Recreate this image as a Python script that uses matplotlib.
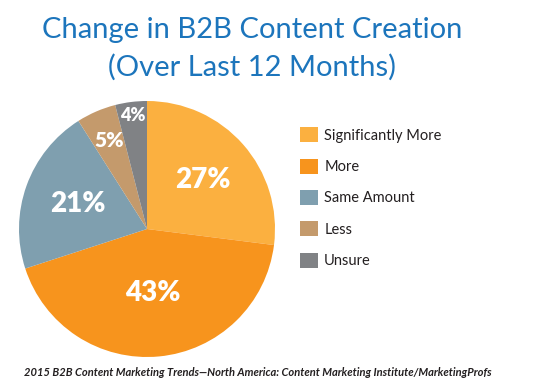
import numpy as np
import matplotlib.pyplot as plt

labels = ['Significantly More', 'More', 'Same Amount', 'Less', 'Unsure']
values = [27, 43, 21, 5, 4]
colors = ['#FBB040', '#F7941D', '#7F9FAF', '#C49A6C', '#808285']
label_dist = [0.58, 0.5, 0.57, 0.75, 0.89]

plt.rcParams['font.family'] = ['Lato', 'DejaVu Sans']

fig = plt.figure(figsize=(5.46, 3.90), dpi=100)
fig.patch.set_facecolor('white')

# pie axes, square in pixels
ax = fig.add_axes([19/546, 33/390, 256/546, 256/390])
wedges, _ = ax.pie(values, colors=colors, startangle=90, counterclock=False,
                   radius=1.0, wedgeprops=dict(linewidth=0))
ax.set_xlim(-1, 1)
ax.set_ylim(-1, 1)
ax.set_aspect('equal')

# percent labels
total = sum(values)
start = 90.0
for v, d in zip(values, label_dist):
    mid = start - v / total * 360 / 2
    start -= v / total * 360
    x = d * np.cos(np.radians(mid))
    y = d * np.sin(np.radians(mid))
    fs = 20 if v >= 10 else 15
    if v < 5:
        fs = 13
    ax.text(x, y, f'{v}%', ha='center', va='center', color='white',
            fontsize=fs, fontweight='heavy')

fig.text(252/546, 1 - 30/390, 'Change in B2B Content Creation', ha='center', va='center',
         fontsize=21, color='#1C75BC')
fig.text(252/546, 1 - 67/390, '(Over Last 12 Months)', ha='center', va='center',
         fontsize=21, color='#1C75BC')

leg = fig.legend(wedges, labels, loc='upper left', bbox_to_anchor=(287/546, 1 - 114/390),
                 frameon=False, handlelength=1.2, handleheight=1.2, labelspacing=1.1,
                 handletextpad=0.45, fontsize=10.5)
for t in leg.get_texts():
    t.set_color('#231F20')

fig.text(258/546, 1 - 373/390,
         '2015 B2B Content Marketing Trends\u2014North America: Content Marketing Institute/MarketingProfs',
         ha='center', va='center', fontsize=8, fontstyle='italic', fontweight='bold',
         color='#231F20')

fig.savefig('out.png', dpi=100)
